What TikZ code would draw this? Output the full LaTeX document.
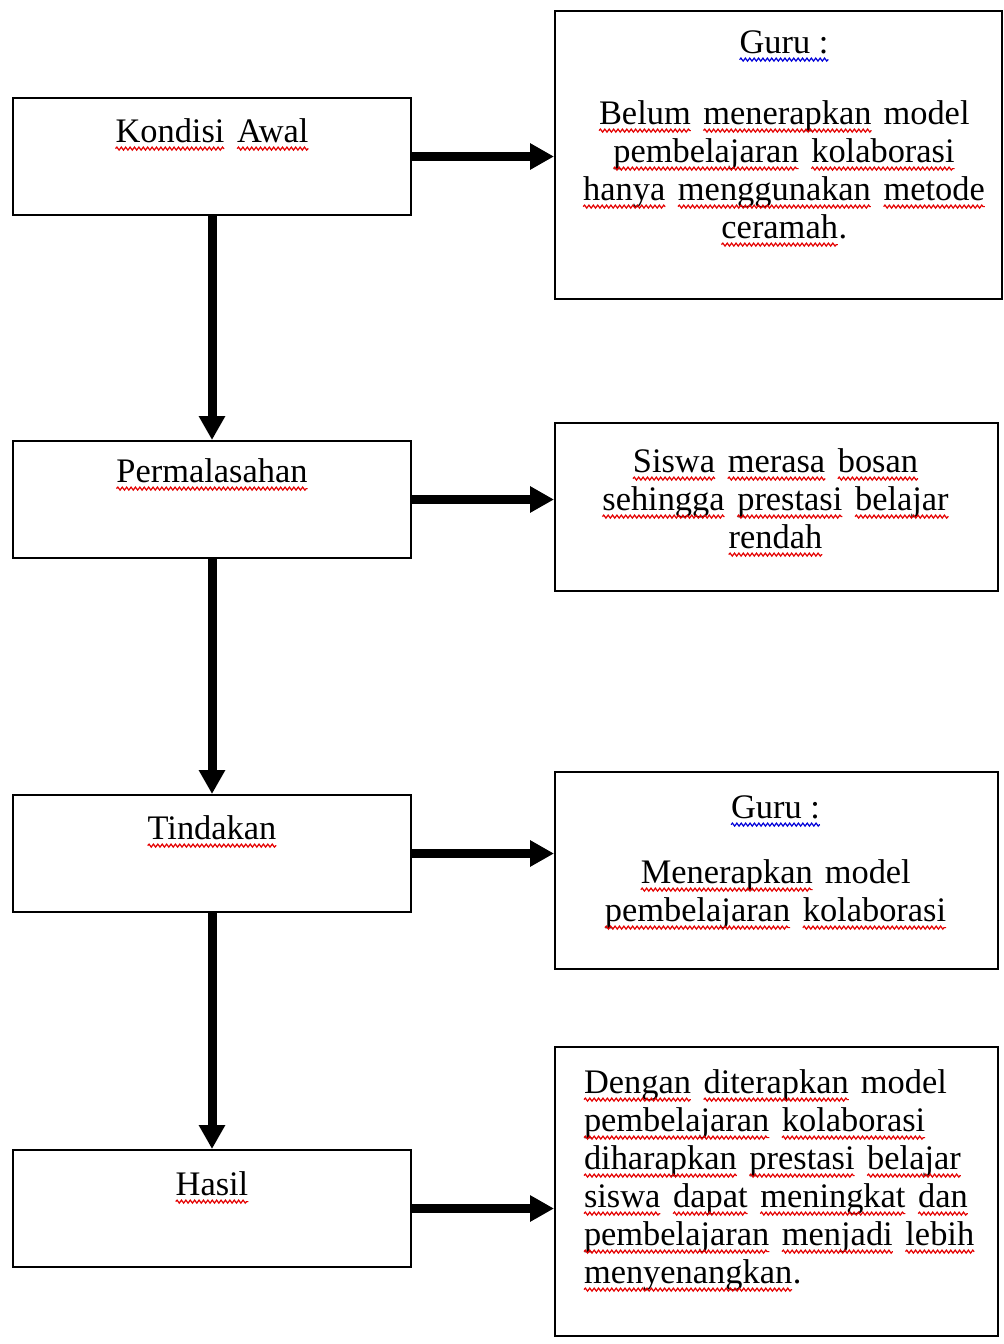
\documentclass[tikz,border=0pt]{standalone}
\usepackage{fontspec}
\setmainfont{Liberation Serif}
\usetikzlibrary{arrows.meta,positioning,decorations.pathmorphing}

% garis bergelombang di bawah kata
\tikzset{gelombang/.style={line width=0.6pt,decorate,decoration={snake,amplitude=0.75pt,segment length=2.2pt}}}
\newcommand{\garis}[2]{\tikz[baseline=(w.base)]{\node[inner sep=0pt,outer sep=0pt,anchor=base] (w) {#2};
    \draw[gelombang,#1] ([yshift=-3.3pt]w.base west) -- ([yshift=-3.3pt]w.base east);}}
\newcommand{\merah}[1]{\garis{red!90!black}{#1}}
\newcommand{\biru}[1]{\garis{blue!85!black}{#1}}

\begin{document}
\begin{tikzpicture}[x=0.5pt,y=-0.5pt,>={Triangle[length=12pt,width=12.5pt]},
    kotak/.style={draw,line width=1pt,anchor=north west,inner sep=0pt},
    kiri/.style={kotak,minimum width=199pt,minimum height=58.5pt},
    teks/.style={inner sep=0pt,font=\fontsize{17.2pt}{19pt}\selectfont,text width=220pt,align=center,anchor=base},
    panah/.style={->,line width=4.5pt}]
    \fill[white] (0,0) rectangle (1003,1344);
    \useasboundingbox (0,0) rectangle (1003,1344);

    \node[kiri] (awal)     at (12,97)   {};
    \node[kiri] (masalah)  at (12,440)  {};
    \node[kiri] (tindakan) at (12,794)  {};
    \node[kiri] (hasil)    at (12,1149) {};

    \node[kotak,minimum width=223.5pt,minimum height=144pt]   (guru1)   at (554,10)   {};
    \node[kotak,minimum width=221.5pt,minimum height=84pt]    (siswa)   at (554,422)  {};
    \node[kotak,minimum width=221.5pt,minimum height=98.5pt]  (guru2)   at (554,771)  {};
    \node[kotak,minimum width=221.5pt,minimum height=144.5pt] (harapan) at (554,1046) {};

    \node[teks] at ([yshift=-22.5pt]awal.north)     {\merah{Kondisi} \merah{Awal}};
    \node[teks] at ([yshift=-21pt]masalah.north)    {\merah{Permalasahan}};
    \node[teks] at ([yshift=-22.5pt]tindakan.north) {\merah{Tindakan}};
    \node[teks] at ([yshift=-23pt]hasil.north)      {\merah{Hasil}};

    \node[teks] at (784,53) {\biru{Guru :}\\[16.5pt]
        \merah{Belum} \merah{menerapkan} model\\
        \merah{pembelajaran} \merah{kolaborasi}\\
        \merah{hanya} \merah{menggunakan} \merah{metode}\\
        \merah{ceramah}.};
    \node[teks] at (775.5,472) {\merah{Siswa} \merah{merasa} \merah{bosan}\\
        \merah{sehingga} \merah{prestasi} \merah{belajar}\\
        \merah{rendah}};
    \node[teks] at (775.5,818) {\biru{Guru :}\\[13.5pt]
        \merah{Menerapkan} model\\
        \merah{pembelajaran} \merah{kolaborasi}};
    \node[teks,align=left,anchor=base west] at (583,1093) {\merah{Dengan} \merah{diterapkan} model\\
        \merah{pembelajaran} \merah{kolaborasi}\\
        \merah{diharapkan} \merah{prestasi} \merah{belajar}\\
        \merah{siswa} \merah{dapat} \merah{meningkat} \merah{dan}\\
        \merah{pembelajaran} \merah{menjadi} \merah{lebih}\\
        \merah{menyenangkan}.};

    \draw[panah] (awal) -- (masalah);
    \draw[panah] (masalah) -- (tindakan);
    \draw[panah] (tindakan) -- (hasil);
    \draw[panah] (awal.east) -- (awal.east -| guru1.west);
    \draw[panah] (masalah.east) -- (masalah.east -| siswa.west);
    \draw[panah] (tindakan.east) -- (tindakan.east -| guru2.west);
    \draw[panah] (hasil.east) -- (hasil.east -| harapan.west);
\end{tikzpicture}
\end{document}
